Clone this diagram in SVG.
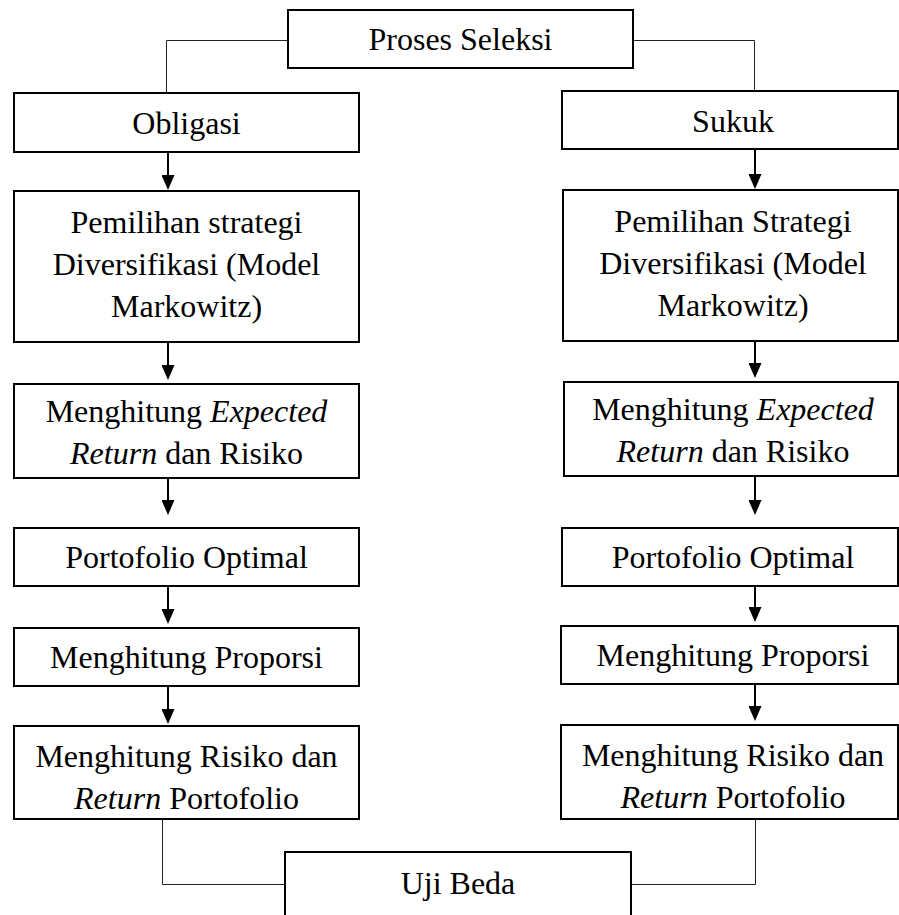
<svg xmlns="http://www.w3.org/2000/svg" width="899" height="915" viewBox="0 0 899 915">
<style>
.box{fill:#fff;stroke:#000;stroke-width:2}
.t{font-family:"Liberation Serif","Times New Roman",serif;font-size:32px;fill:#000;text-anchor:middle}
.i{font-style:italic}
.conn{fill:none;stroke:#222;stroke-width:1}
.arr{fill:none;stroke:#000;stroke-width:2}
</style>
<defs>
<marker id="ah" markerUnits="userSpaceOnUse" markerWidth="15" markerHeight="13" refX="10" refY="6.5" orient="auto">
<path d="M0,0 L15,6.5 L0,13 z" fill="#000"/>
</marker>
</defs>
<rect width="899" height="915" fill="#fff"/>
<g id="connectors">
<polyline class="conn" points="288,40.5 166.5,40.5 166.5,92"/>
<polyline class="conn" points="633,40.5 754.5,40.5 754.5,90"/>
<polyline class="conn" points="162.5,819 162.5,884.5 285,884.5"/>
<polyline class="conn" points="755.5,819 755.5,884.5 631,884.5"/>
<line class="arr" x1="168" y1="152" x2="168" y2="185" marker-end="url(#ah)"/>
<line class="arr" x1="168" y1="342" x2="168" y2="375" marker-end="url(#ah)"/>
<line class="arr" x1="168" y1="478" x2="168" y2="510" marker-end="url(#ah)"/>
<line class="arr" x1="168" y1="586" x2="168" y2="619" marker-end="url(#ah)"/>
<line class="arr" x1="168" y1="686" x2="168" y2="719" marker-end="url(#ah)"/>
<line class="arr" x1="755" y1="149" x2="755" y2="184" marker-end="url(#ah)"/>
<line class="arr" x1="755" y1="341" x2="755" y2="373" marker-end="url(#ah)"/>
<line class="arr" x1="755" y1="476" x2="755" y2="510" marker-end="url(#ah)"/>
<line class="arr" x1="755" y1="586" x2="755" y2="617" marker-end="url(#ah)"/>
<line class="arr" x1="755" y1="684" x2="755" y2="716" marker-end="url(#ah)"/>
</g>
<g id="proses-seleksi">
<rect class="box" x="288" y="10" width="345" height="58"/>
<text class="t" x="460.5" y="50">Proses Seleksi</text>
</g>
<g id="obligasi">
<rect class="box" x="14" y="93" width="345" height="59"/>
<text class="t" x="186.5" y="134">Obligasi</text>
</g>
<g id="sukuk">
<rect class="box" x="562" y="91" width="336" height="58"/>
<text class="t" x="733" y="132">Sukuk</text>
</g>
<g id="pemilihan-kiri">
<rect class="box" x="14" y="191" width="345" height="151"/>
<text class="t" x="186.5" y="233">Pemilihan strategi</text>
<text class="t" x="186.5" y="275">Diversifikasi (Model</text>
<text class="t" x="186.5" y="317">Markowitz)</text>
</g>
<g id="pemilihan-kanan">
<rect class="box" x="563" y="190" width="335" height="151"/>
<text class="t" x="733" y="232">Pemilihan Strategi</text>
<text class="t" x="733" y="274">Diversifikasi (Model</text>
<text class="t" x="733" y="316">Markowitz)</text>
</g>
<g id="expected-kiri">
<rect class="box" x="14" y="384" width="345" height="94"/>
<text class="t" x="186.5" y="422">Menghitung <tspan class="i">Expected</tspan></text>
<text class="t" x="186.5" y="464"><tspan class="i">Return</tspan> dan Risiko</text>
</g>
<g id="expected-kanan">
<rect class="box" x="564" y="382" width="334" height="94"/>
<text class="t" x="733" y="420">Menghitung <tspan class="i">Expected</tspan></text>
<text class="t" x="733" y="462"><tspan class="i">Return</tspan> dan Risiko</text>
</g>
<g id="portofolio-kiri">
<rect class="box" x="14" y="528" width="345" height="58"/>
<text class="t" x="186.5" y="568">Portofolio Optimal</text>
</g>
<g id="portofolio-kanan">
<rect class="box" x="562" y="528" width="336" height="58"/>
<text class="t" x="733" y="568">Portofolio Optimal</text>
</g>
<g id="proporsi-kiri">
<rect class="box" x="14" y="628" width="345" height="58"/>
<text class="t" x="186.5" y="668">Menghitung Proporsi</text>
</g>
<g id="proporsi-kanan">
<rect class="box" x="561" y="626" width="337" height="58"/>
<text class="t" x="733" y="666">Menghitung Proporsi</text>
</g>
<g id="risiko-kiri">
<rect class="box" x="14" y="726" width="345" height="93"/>
<text class="t" x="186.5" y="767">Menghitung Risiko dan</text>
<text class="t" x="186.5" y="809"><tspan class="i">Return</tspan> Portofolio</text>
</g>
<g id="risiko-kanan">
<rect class="box" x="561" y="725" width="337" height="94"/>
<text class="t" x="733" y="766">Menghitung Risiko dan</text>
<text class="t" x="733" y="808"><tspan class="i">Return</tspan> Portofolio</text>
</g>
<g id="uji-beda">
<rect class="box" x="285" y="852" width="346" height="90"/>
<text class="t" x="458" y="894">Uji Beda</text>
</g>
</svg>
